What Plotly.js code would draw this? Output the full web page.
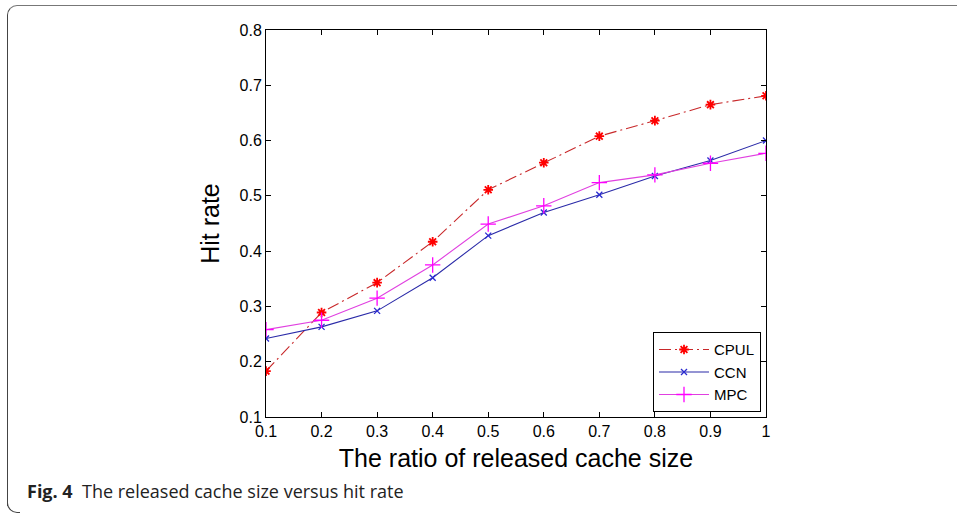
<!DOCTYPE html>
<html>
<head>
<meta charset="utf-8">
<script src="https://cdn.plot.ly/plotly-3.0.1.min.js"></script>
<style>
html,body{margin:0;padding:0;background:#fff;overflow:hidden;}
#wrap{position:relative;width:957px;height:514px;overflow:hidden;}
#chart{position:absolute;left:0;top:0;width:957px;height:514px;}
#frame{position:absolute;left:7px;top:5px;width:960px;height:500px;border-left:1.5px solid #444;border-top:1.5px solid #777;border-top-left-radius:10px;pointer-events:none;}
#corner{position:absolute;left:7px;top:500px;width:12px;height:12px;border-left:1.5px solid #444;border-bottom:1.5px solid #444;border-bottom-left-radius:10px;pointer-events:none;}
</style>
</head>
<body>
<div id="wrap">
<div id="chart"></div>
<div id="frame"></div>
<div id="corner"></div>
</div>
<script>
const ratio = [0.1, 0.2, 0.3, 0.4, 0.5, 0.6, 0.7, 0.8, 0.9, 1.0];
const cpul  = [0.183, 0.289, 0.343, 0.417, 0.511, 0.560, 0.608, 0.636, 0.665, 0.681];
const ccn   = [0.242, 0.263, 0.292, 0.352, 0.428, 0.470, 0.502, 0.536, 0.564, 0.600];
const mpc   = [0.258, 0.275, 0.315, 0.375, 0.449, 0.482, 0.524, 0.538, 0.559, 0.577];
const xTicks = [0.1, 0.2, 0.3, 0.4, 0.5, 0.6, 0.7, 0.8, 0.9, 1.0];
const xTickText = ["0.1", "0.2", "0.3", "0.4", "0.5", "0.6", "0.7", "0.8", "0.9", "1"];
const yTicks = [0.1, 0.2, 0.3, 0.4, 0.5, 0.6, 0.7, 0.8];
const yTickText = ["0.1", "0.2", "0.3", "0.4", "0.5", "0.6", "0.7", "0.8"];

const traces = [
  {x: ratio, y: cpul, name: "CPUL", mode: "lines+markers",
   line: {color: "#c8282a", width: 1.1, dash: "12px,4px,2px,4px"},
   marker: {symbol: "asterisk-open", size: 8, color: "#ff0000", line: {color: "#ff0000", width: 1.8}}},
  {x: ratio, y: ccn, name: "CCN", mode: "lines+markers",
   line: {color: "#2a2aa8", width: 1.1},
   marker: {symbol: "x-thin-open", size: 6, color: "#2a2ad0", line: {color: "#2a2ad0", width: 1.3}}},
  {x: ratio, y: mpc, name: "MPC", mode: "lines+markers",
   line: {color: "#e040e0", width: 1.1},
   marker: {symbol: "cross-thin-open", size: 11, color: "#ff00ff", line: {color: "#ff00ff", width: 1.3}}}
];

const axisFont = {family: "Liberation Sans, Arial, sans-serif", size: 16, color: "#000"};
const layout = {
  width: 957, height: 514,
  margin: {l: 266, r: 191, t: 30, b: 97},
  paper_bgcolor: "#fff", plot_bgcolor: "#fff",
  showlegend: true,
  legend: {x: 0.774, y: 0.219, xanchor: "left", yanchor: "top",
    bordercolor: "#000", borderwidth: 1, bgcolor: "#fff",
    font: {family: "Liberation Sans, Arial, sans-serif", size: 15, color: "#000"},
    itemwidth: 50, tracegroupgap: 0},
  xaxis: {range: [0.1, 1.0], tickvals: xTicks, ticktext: xTickText,
    ticks: "inside", ticklen: 5, tickcolor: "#000", mirror: "ticks",
    showline: true, linecolor: "#000", linewidth: 1, showgrid: false, zeroline: false,
    tickfont: axisFont, automargin: false,
    title: {text: "The ratio of released cache size", standoff: 10,
      font: {family: "Liberation Sans, Arial, sans-serif", size: 25, color: "#000"}}},
  yaxis: {range: [0.1, 0.8], tickvals: yTicks, ticktext: yTickText,
    ticks: "inside", ticklen: 5, tickcolor: "#000", mirror: "ticks",
    showline: true, linecolor: "#000", linewidth: 1, showgrid: false, zeroline: false,
    tickfont: axisFont, automargin: false,
    title: {text: "Hit rate", standoff: 12,
      font: {family: "Liberation Sans, Arial, sans-serif", size: 25, color: "#000"}}},
  annotations: [
    {xref: "paper", yref: "paper", x: -0.482, y: -0.192, xanchor: "left", yanchor: "middle",
     showarrow: false, align: "left",
     text: "<b>Fig. 4</b>  The released cache size versus hit rate",
     font: {family: "Open Sans, Noto Sans, sans-serif", size: 18, color: "#222"}}
  ]
};
Plotly.newPlot("chart", traces, layout, {displayModeBar: false, staticPlot: true});
</script>
</body>
</html>
